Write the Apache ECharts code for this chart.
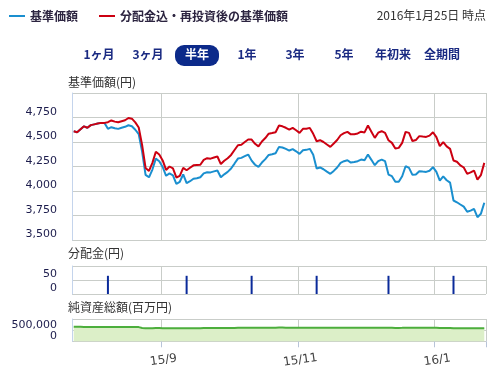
<!DOCTYPE html>
<html><head><meta charset="utf-8">
<script src="https://cdn.jsdelivr.net/npm/echarts@6/dist/echarts.min.js"></script>
<style>html,body{margin:0;padding:0;background:#fff}#c{width:501px;height:369px}</style>
</head><body><div id="c"></div>
<script>
const dates = [
'2015/07/27','2015/07/28','2015/07/29','2015/07/30','2015/07/31',
'2015/08/03','2015/08/04','2015/08/05','2015/08/06','2015/08/07','2015/08/10','2015/08/11','2015/08/12','2015/08/13','2015/08/14','2015/08/17','2015/08/18','2015/08/19','2015/08/20','2015/08/21','2015/08/24','2015/08/25','2015/08/26','2015/08/27','2015/08/28','2015/08/31',
'2015/09/01','2015/09/02','2015/09/03','2015/09/04','2015/09/07','2015/09/08','2015/09/09','2015/09/10','2015/09/11','2015/09/14','2015/09/15','2015/09/16','2015/09/17','2015/09/18','2015/09/24','2015/09/25','2015/09/28','2015/09/29','2015/09/30',
'2015/10/01','2015/10/02','2015/10/05','2015/10/06','2015/10/07','2015/10/08','2015/10/09','2015/10/13','2015/10/14','2015/10/15','2015/10/16','2015/10/19','2015/10/20','2015/10/21','2015/10/22','2015/10/23','2015/10/26','2015/10/27','2015/10/28','2015/10/29','2015/10/30',
'2015/11/02','2015/11/04','2015/11/05','2015/11/06','2015/11/09','2015/11/10','2015/11/11','2015/11/12','2015/11/13','2015/11/16','2015/11/17','2015/11/18','2015/11/19','2015/11/20','2015/11/24','2015/11/25','2015/11/26','2015/11/27','2015/11/30',
'2015/12/01','2015/12/02','2015/12/03','2015/12/04','2015/12/07','2015/12/08','2015/12/09','2015/12/10','2015/12/11','2015/12/14','2015/12/15','2015/12/16','2015/12/17','2015/12/18','2015/12/21','2015/12/22','2015/12/24','2015/12/25','2015/12/28','2015/12/29','2015/12/30',
'2016/01/04','2016/01/05','2016/01/06','2016/01/07','2016/01/08','2016/01/12','2016/01/13','2016/01/14','2016/01/15','2016/01/18','2016/01/19','2016/01/20','2016/01/21','2016/01/22','2016/01/25'
];
const navValues = [
4610,4600,4630,4660,4645,4672,4680,4688,4695,4695,
4634,4651,4640,4634,4645,4655,4671,4661,4625,4580,
4400,4165,4140,4219,4330,4304,4245,4155,4180,4160,
4073,4094,4170,4080,4100,4125,4130,4140,4180,4192,
4190,4200,4209,4141,4170,4195,4230,4280,4331,4338,
4355,4372,4310,4268,4247,4290,4325,4368,4375,4385,
4450,4444,4430,4413,4428,4405,4379,4416,4420,4430,
4369,4229,4240,4222,4198,4175,4205,4240,4287,4304,
4314,4290,4296,4304,4321,4314,4372,4318,4263,4305,
4321,4304,4168,4151,4094,4094,4151,4253,4236,4165,
4168,4202,4198,4195,4207,4243,4195,4107,4150,4110,
4085,3903,3885,3862,3840,3788,3800,3818,3733,3767,
3880
];
const reinvestedValues = [
4610,4600,4630,4660,4645,4672,4680,4688,4695,4695,
4702,4720,4708,4702,4712,4722,4745,4738,4700,4648,
4468,4235,4205,4287,4400,4372,4312,4215,4250,4230,
4138,4155,4236,4212,4237,4262,4265,4268,4318,4335,
4330,4342,4352,4275,4308,4335,4368,4418,4467,4472,
4500,4525,4525,4482,4455,4505,4540,4585,4592,4600,
4668,4660,4645,4627,4644,4620,4593,4634,4636,4644,
4583,4508,4518,4500,4475,4450,4485,4520,4569,4590,
4603,4578,4580,4587,4605,4598,4668,4605,4542,4595,
4610,4593,4518,4491,4433,4440,4491,4603,4593,4510,
4520,4560,4555,4552,4565,4600,4550,4457,4498,4455,
4430,4311,4298,4262,4240,4175,4190,4209,4117,4161,
4287
];
const distributionDates = ['2015/08/10','2015/09/10','2015/10/13','2015/11/10','2015/12/10','2016/01/12'];
const distributionValues = [65,65,65,65,65,65];
const netAssetValues = [
648000,647000,647000,646000,646000,645000,645000,645000,644000,644000,
643000,643000,642000,642000,642000,641000,641000,641000,640000,636000,
600000,588000,585000,588000,592000,592000,590000,588000,589000,588000,
585000,586000,588000,586000,587000,588000,588000,589000,591000,592000,
592000,593000,594000,592000,594000,596000,598000,601000,604000,605000,
606000,607000,606000,605000,604000,606000,608000,610000,611000,612000,
614000,614000,613000,612000,613000,612000,611000,612000,612000,613000,
610000,606000,606000,605000,604000,604000,605000,606000,608000,609000,
609000,608000,608000,609000,609000,609000,611000,609000,607000,608000,
609000,608000,604000,603000,600000,600000,602000,605000,605000,602000,
602000,603000,603000,603000,604000,605000,603000,598000,599000,597000,
596000,590000,589000,587000,586000,583000,583000,584000,580000,581000,
584000
];
const xTickDates = ['2015/09/01','2015/11/02','2016/01/04'];
const xTickLabels = ['15/9','15/11','16/1'];
const periodButtons = ['1ヶ月','3ヶ月','半年','1年','3年','5年','年初来','全期間'];

const distributionSeries = dates.map(d => {
  const k = distributionDates.indexOf(d);
  return k >= 0 ? distributionValues[k] : null;
});

const chart = echarts.init(document.getElementById('c'), null, {renderer: 'canvas'});
const gridColor = '#c9cdc9';
const labelColor = '#1c1c4c';
const jp = 'Noto Sans CJK JP';
const isTick = (idx, val) => xTickDates.indexOf(val) >= 0;

function xAxis(gridIndex, showLabels) {
  return {
    type: 'category', gridIndex, data: dates, boundaryGap: true,
    axisLine: {show: false},
    axisTick: {show: showLabels, interval: isTick, length: 6, lineStyle: {color: '#b8c4d8'}},
    axisLabel: {
      show: showLabels, interval: isTick, rotate: 8, align: 'center', verticalAlign: 'top', margin: 13,
      color: '#444', fontFamily: 'DejaVu Sans', fontSize: 12,
      formatter: v => xTickLabels[xTickDates.indexOf(v)] || ''
    },
    splitLine: {show: true, interval: isTick, lineStyle: {color: gridColor, width: 1}}
  };
}
function yAxis(gridIndex, min, max, interval) {
  return {
    type: 'value', gridIndex, min, max, interval,
    axisLine: {show: true, lineStyle: {color: '#c4d4ec', width: 1}},
    axisTick: {show: false},
    axisLabel: {
      color: labelColor, fontFamily: 'DejaVu Sans', fontSize: 11, margin: 15,
      showMaxLabel: false, verticalAlign: 'bottom',
      formatter: v => v.toLocaleString('en-US')
    },
    splitLine: {show: true, lineStyle: {color: gridColor, width: 1}}
  };
}

const btnX = [99, 148, 197, 247, 295, 344, 393, 442];
const graphics = [];
graphics.push({type: 'rect', x: 175, y: 45, shape: {width: 44, height: 21, r: 9}, style: {fill: '#0c2a8a'}});
periodButtons.forEach((t, i) => {
  graphics.push({type: 'text', x: btnX[i], y: 54, style: {
    text: t, fill: i === 2 ? '#ffffff' : '#1a2a82', fontSize: 12, fontWeight: 'bold',
    fontFamily: jp, align: 'center', verticalAlign: 'middle'}});
});
// legend
graphics.push({type: 'line', shape: {x1: 9, y1: 16, x2: 25, y2: 16}, style: {stroke: '#1a8fcf', lineWidth: 2}});
graphics.push({type: 'text', x: 30, y: 16, style: {text: '基準価額', fill: '#2c2440', fontSize: 12, fontWeight: 'bold', fontFamily: jp, verticalAlign: 'middle'}});
graphics.push({type: 'line', shape: {x1: 99, y1: 16, x2: 115, y2: 16}, style: {stroke: '#cc0011', lineWidth: 2}});
graphics.push({type: 'text', x: 120, y: 16, style: {text: '分配金込・再投資後の基準価額', fill: '#2c2440', fontSize: 12, fontWeight: 'bold', fontFamily: jp, verticalAlign: 'middle'}});
graphics.push({type: 'text', x: 486, y: 15, style: {text: '2016年1月25日 時点', fill: '#333', fontSize: 12, fontFamily: jp, align: 'right', verticalAlign: 'middle'}});
// panel titles
[['基準価額(円)', 82], ['分配金(円)', 253], ['純資産総額(百万円)', 307]].forEach(([t, y]) => {
  graphics.push({type: 'text', x: 68, y: y, style: {text: t, fill: '#333', fontSize: 12, fontFamily: jp, verticalAlign: 'middle'}});
});

chart.setOption({
  animation: false,
  backgroundColor: '#fff',
  graphic: graphics,
  grid: [
    {left: 72, right: 15, top: 93, height: 147},
    {left: 72, right: 15, top: 266, height: 28},
    {left: 72, right: 15, top: 319, height: 28}
  ],
  xAxis: [xAxis(0, false), xAxis(1, false), xAxis(2, true)],
  yAxis: [
    yAxis(0, 3500, 5000, 250),
    yAxis(1, 0, 100, 50),
    yAxis(2, 0, 1000000, 500000)
  ],
  series: [
    {name: '基準価額', type: 'line', xAxisIndex: 0, yAxisIndex: 0, data: navValues, symbol: 'none',
     lineStyle: {color: '#1a8fcf', width: 2}, itemStyle: {color: '#1a8fcf'}},
    {name: '分配金込・再投資後の基準価額', type: 'line', xAxisIndex: 0, yAxisIndex: 0, data: reinvestedValues, symbol: 'none',
     lineStyle: {color: '#cc0011', width: 2}, itemStyle: {color: '#cc0011'}},
    {name: '分配金', type: 'bar', xAxisIndex: 1, yAxisIndex: 1, data: distributionSeries, barWidth: 2,
     itemStyle: {color: '#0a2a9a'}},
    {name: '純資産総額', type: 'line', xAxisIndex: 2, yAxisIndex: 2, data: netAssetValues, symbol: 'none',
     lineStyle: {color: '#4cae3c', width: 2}, areaStyle: {color: '#dcefc8', opacity: 1}}
  ]
});
</script></body></html>
